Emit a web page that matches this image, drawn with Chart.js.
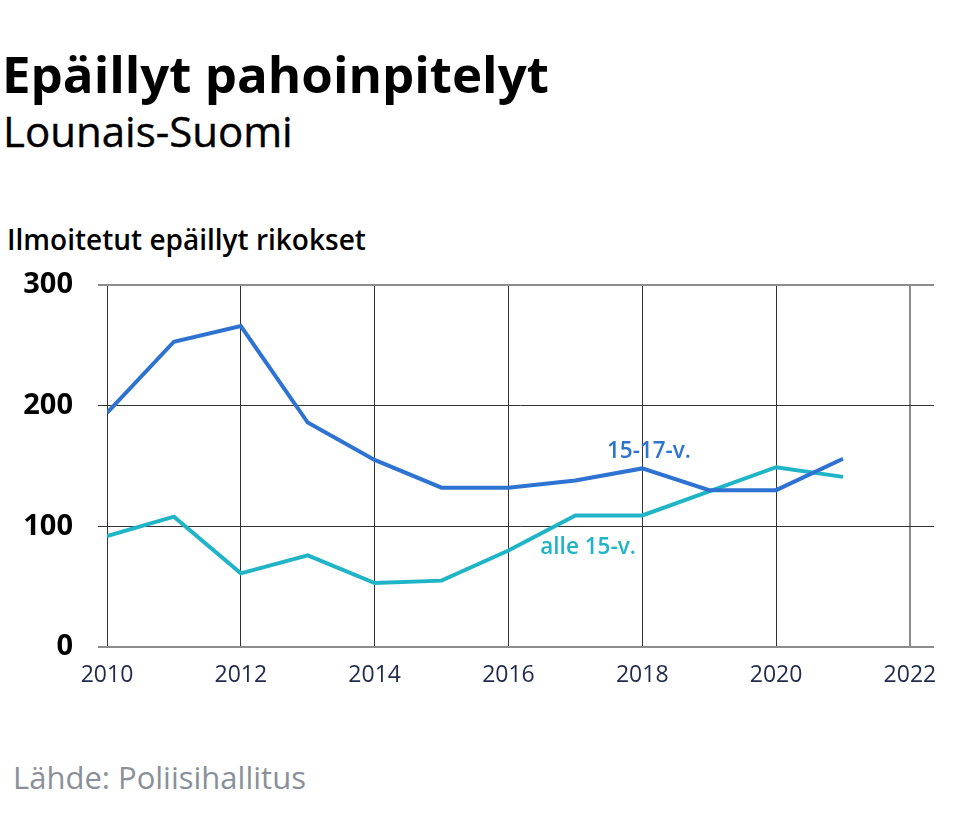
<!DOCTYPE html>
<html>
<head>
<meta charset="utf-8">
<script src="https://cdn.jsdelivr.net/npm/chart.js@4"></script>
<style>
  body { margin: 0; width: 959px; height: 818px; background: #fff; position: relative; overflow: hidden; font-family: "Open Sans", sans-serif; }
  .t { position: absolute; white-space: nowrap; line-height: 1; }
  #title { left: 2px; top: 48px; font-size: 51px; font-weight: 700; color: #000; }
  #subtitle { left: 3px; top: 110px; font-size: 42px; font-weight: 400; color: #000; -webkit-text-stroke: 0.4px #000; }
  #ytitle { left: 7px; top: 225px; font-size: 28px; font-weight: 600; color: #000; }
  #source { left: 13px; top: 762px; font-size: 31px; font-weight: 400; color: #8a9099; }
  #wrap { position: absolute; left: 0; top: 0; width: 959px; height: 818px; }
</style>
</head>
<body>
<div class="t" id="title">Epäillyt pahoinpitelyt</div>
<div class="t" id="subtitle">Lounais-Suomi</div>
<div class="t" id="ytitle">Ilmoitetut epäillyt rikokset</div>
<div class="t" id="source">Lähde: Poliisihallitus</div>
<div id="wrap"><canvas id="grafico"></canvas></div>
<script>
// data
const vuodet = [2010, 2011, 2012, 2013, 2014, 2015, 2016, 2017, 2018, 2019, 2020, 2021];
const ika15_17 = [194, 253, 266, 186, 155, 132, 132, 138, 148, 130, 130, 156];
const alle15 = [92, 108, 61, 76, 53, 55, 80, 109, 109, 129, 149, 141];
const xTicks = [2010, 2012, 2014, 2016, 2018, 2020, 2022];
const yTicks = [0, 100, 200, 300];

const sininen = '#2e73d2';
const turkoosi = '#1fb4c6';

// line labels (data coordinates)
const nimet = [
    { text: '15-17-v.', x: 2018.1, y: 161.6, color: sininen },
    { text: 'alle 15-v.', x: 2017.19, y: 82, color: turkoosi },
];

const toPoints = (vals) => vuodet.map((v, i) => ({ x: v, y: vals[i] }));

const nimiPlugin = {
    id: 'nimet',
    afterDatasetsDraw(chart) {
        const { ctx, scales } = chart;
        ctx.save();
        ctx.font = '600 22.5px "Open Sans"';
        ctx.textAlign = 'center';
        ctx.textBaseline = 'middle';
        nimet.forEach(n => {
            ctx.fillStyle = n.color;
            ctx.fillText(n.text, scales.x.getPixelForValue(n.x), scales.y.getPixelForValue(n.y));
        });
        ctx.restore();
    }
};

const ctx = document.getElementById('grafico').getContext('2d');
new Chart(ctx, {
    type: 'line',
    data: {
        datasets: [
            {
                label: '15-17-v.',
                data: toPoints(ika15_17),
                borderColor: sininen,
                borderWidth: 4,
                pointRadius: 0,
                tension: 0,
                borderJoinStyle: 'miter',
            },
            {
                label: 'alle 15-v.',
                data: toPoints(alle15),
                borderColor: turkoosi,
                borderWidth: 4,
                pointRadius: 0,
                tension: 0,
                borderJoinStyle: 'miter',
            },
        ],
    },
    options: {
        responsive: true,
        maintainAspectRatio: false,
        animation: false,
        layout: { padding: { top: 285, right: 25, left: 0, bottom: 0 } },
        plugins: { legend: { display: false }, tooltip: { enabled: false } },
        scales: {
            x: {
                type: 'linear',
                min: 2010,
                max: 2022.36,
                afterFit: (scale) => { scale.height = 171; },
                afterBuildTicks: (scale) => { scale.ticks = xTicks.map(v => ({ value: v })); },
                border: { display: false },
                grid: {
                    drawTicks: false,
                    color: (c) => c.tick && c.tick.value === 2022 ? '#8c8c8c' : '#333',
                    lineWidth: (c) => c.tick && c.tick.value === 2022 ? 2 : 1,
                },
                ticks: {
                    padding: 15,
                    color: '#1f2a4d',
                    font: { family: 'Open Sans', size: 23 },
                    callback: (v) => String(v),
                    maxRotation: 0,
                },
            },
            y: {
                min: 0,
                max: 300,
                afterFit: (scale) => { scale.width = 107; },
                afterBuildTicks: (scale) => { scale.ticks = yTicks.map(v => ({ value: v })); },
                border: { display: false },
                grid: {
                    tickLength: 9,
                    color: (c) => c.tick && (c.tick.value === 0 || c.tick.value === 300) ? '#8c8c8c' : '#333',
                    lineWidth: (c) => c.tick && (c.tick.value === 0 || c.tick.value === 300) ? 2 : 1,
                },
                ticks: {
                    padding: 25,
                    color: '#000',
                    font: { family: 'Open Sans', size: 29, weight: '700' },
                },
            },
        },
    },
    plugins: [nimiPlugin],
});
</script>
</body>
</html>
